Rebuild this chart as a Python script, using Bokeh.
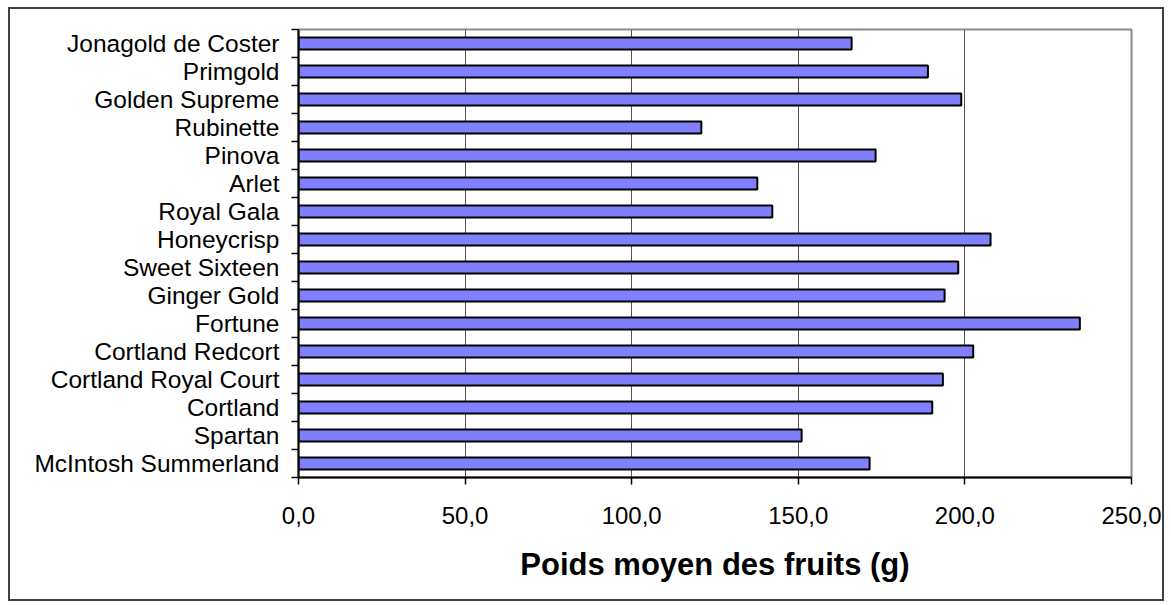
from bokeh.plotting import figure
from bokeh.models import Range1d, FixedTicker, ColumnDataSource
from bokeh.embed import file_html
from bokeh.resources import INLINE

# Data (bottom to top, as plotted)
varieties = ["McIntosh Summerland", "Spartan", "Cortland", "Cortland Royal Court",
             "Cortland Redcort", "Fortune", "Ginger Gold", "Sweet Sixteen",
             "Honeycrisp", "Royal Gala", "Arlet", "Pinova", "Rubinette",
             "Golden Supreme", "Primgold", "Jonagold de Coster"]
weights = [171.4, 151.0, 190.2, 193.4, 202.5, 234.5, 193.9, 198.0,
           207.7, 142.2, 137.7, 173.2, 120.9, 198.9, 188.9, 166.0]
x_ticks = [0, 50, 100, 150, 200, 250]
x_title = "Poids moyen des fruits (g)"

n = len(varieties)
ypos = [i + 0.5 for i in range(n)]
source = ColumnDataSource(dict(y=ypos, w=weights, name=varieties))

FONT = "Liberation Sans"

p = figure(width=1156, height=594,
           x_range=Range1d(0, 250), y_range=Range1d(0, n),
           output_backend="svg", toolbar_location=None,
           min_border_left=288, min_border_right=35,
           min_border_top=20, min_border_bottom=126)
p.styles = {"border": "2px solid #404040", "margin-left": "8px", "margin-top": "7px"}

p.hbar(y="y", right="w", left=0, height=0.42, source=source,
       fill_color="#8080FF", line_color="black", line_width=2)

# frame
p.outline_line_color = "#8c8c8c"
p.outline_line_width = 2
p.background_fill_color = "white"
p.border_fill_color = "white"

# grid
p.ygrid.visible = False
p.xgrid.ticker = FixedTicker(ticks=x_ticks)
p.xgrid.grid_line_color = "#555555"
p.xgrid.grid_line_width = 1

# x axis
xa = p.xaxis[0]
xa.ticker = FixedTicker(ticks=x_ticks)
xa.major_label_overrides = {t: f"{t:.1f}".replace(".", ",") for t in x_ticks}
xa.major_label_text_font = FONT
xa.major_label_text_font_size = "24px"
xa.major_label_text_color = "black"
xa.major_label_standoff = 22
xa.major_tick_out = 7
xa.major_tick_in = 0
xa.minor_tick_line_color = None
xa.axis_line_color = "black"
xa.axis_line_width = 2
xa.major_tick_line_width = 1.5
xa.axis_label = x_title
xa.axis_label_text_font = FONT
xa.axis_label_text_font_size = "31px"
xa.axis_label_text_font_style = "bold"
xa.axis_label_text_color = "black"
xa.axis_label_standoff = 20

# y axis
ya = p.yaxis[0]
ya.ticker = FixedTicker(ticks=ypos, minor_ticks=list(range(n + 1)))
ya.major_label_overrides = {y: v for y, v in zip(ypos, varieties)}
ya.major_label_text_font = FONT
ya.major_label_text_font_size = "24.5px"
ya.major_label_text_color = "black"
ya.major_label_standoff = 12
ya.major_tick_line_color = None
ya.major_tick_out = 0
ya.major_tick_in = 0
ya.minor_tick_out = 7
ya.minor_tick_in = 0
ya.minor_tick_line_color = "black"
ya.minor_tick_line_width = 1.5
ya.axis_line_color = "black"
ya.axis_line_width = 2

open("out.html", "w").write(file_html(p, INLINE))
